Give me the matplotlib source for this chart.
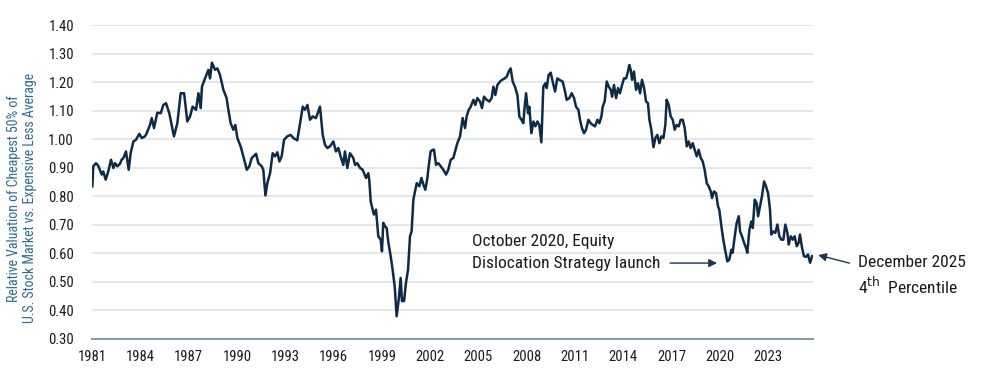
import matplotlib
matplotlib.use("Agg")
import matplotlib.pyplot as plt

plt.rcParams['font.family'] = ['Roboto Condensed', 'Liberation Sans Narrow', 'Roboto', 'DejaVu Sans']

# relative valuation (decimal years)
years = [
    1981.02, 1981.08, 1981.25, 1981.39, 1981.60, 1981.70, 1981.85, 1982.01, 1982.18, 1982.33,
    1982.43, 1982.57, 1982.74, 1982.84, 1982.95, 1983.11, 1983.28, 1983.40, 1983.57, 1983.73,
    1983.94, 1984.09, 1984.29, 1984.40, 1984.60, 1984.71, 1984.85, 1985.06, 1985.27, 1985.43,
    1985.60, 1985.80, 1986.09, 1986.30, 1986.51, 1986.72, 1986.92, 1987.09, 1987.25, 1987.46,
    1987.61, 1987.75, 1987.83, 1988.02, 1988.23, 1988.33, 1988.45, 1988.64, 1988.79, 1988.95,
    1989.16, 1989.36, 1989.47, 1989.61, 1989.78, 1989.90, 1990.03, 1990.23, 1990.40, 1990.61,
    1990.77, 1990.92, 1991.19, 1991.33, 1991.54, 1991.64, 1991.77, 1991.89, 1992.06, 1992.22,
    1992.37, 1992.51, 1992.64, 1992.78, 1992.93, 1993.13, 1993.34, 1993.51, 1993.75, 1993.92,
    1994.09, 1994.23, 1994.38, 1994.54, 1994.71, 1994.91, 1995.16, 1995.33, 1995.47, 1995.62,
    1995.78, 1995.99, 1996.15, 1996.30, 1996.44, 1996.61, 1996.71, 1996.86, 1997.02, 1997.23,
    1997.34, 1997.48, 1997.65, 1997.81, 1998.02, 1998.16, 1998.22, 1998.31, 1998.43, 1998.51,
    1998.64, 1998.78, 1998.93, 1999.01, 1999.09, 1999.20, 1999.30, 1999.41, 1999.55, 1999.67,
    1999.80, 1999.92, 2000.05, 2000.17, 2000.25, 2000.38, 2000.50, 2000.63, 2000.75, 2000.85,
    2000.96, 2001.06, 2001.17, 2001.33, 2001.46, 2001.58, 2001.70, 2001.83, 2001.91, 2002.03,
    2002.16, 2002.24, 2002.37, 2002.51, 2002.66, 2002.82, 2002.99, 2003.13, 2003.28, 2003.44,
    2003.55, 2003.69, 2003.86, 2004.02, 2004.17, 2004.27, 2004.40, 2004.52, 2004.69, 2004.81,
    2004.93, 2005.10, 2005.22, 2005.35, 2005.51, 2005.68, 2005.82, 2005.93, 2006.05, 2006.18,
    2006.34, 2006.47, 2006.63, 2006.76, 2006.88, 2007.00, 2007.13, 2007.27, 2007.42, 2007.54,
    2007.67, 2007.79, 2007.87, 2007.96, 2008.08, 2008.16, 2008.29, 2008.41, 2008.54, 2008.66,
    2008.78, 2008.91, 2009.03, 2009.16, 2009.24, 2009.36, 2009.49, 2009.61, 2009.76, 2009.90,
    2010.03, 2010.23, 2010.38, 2010.48, 2010.65, 2010.79, 2010.94, 2011.06, 2011.21, 2011.31,
    2011.43, 2011.56, 2011.68, 2011.83, 2011.97, 2012.10, 2012.24, 2012.39, 2012.51, 2012.64,
    2012.72, 2012.84, 2012.97, 2013.09, 2013.22, 2013.30, 2013.42, 2013.55, 2013.67, 2013.79,
    2013.92, 2014.04, 2014.17, 2014.29, 2014.37, 2014.46, 2014.54, 2014.66, 2014.79, 2014.91,
    2015.04, 2015.16, 2015.29, 2015.41, 2015.53, 2015.62, 2015.74, 2015.87, 2015.99, 2016.11,
    2016.24, 2016.36, 2016.49, 2016.61, 2016.69, 2016.82, 2016.94, 2017.07, 2017.19, 2017.31,
    2017.44, 2017.56, 2017.69, 2017.81, 2017.94, 2018.06, 2018.18, 2018.31, 2018.43, 2018.56,
    2018.68, 2018.81, 2018.93, 2019.05, 2019.18, 2019.30, 2019.43, 2019.51, 2019.63, 2019.76,
    2019.88, 2019.96, 2020.09, 2020.21, 2020.34, 2020.46, 2020.58, 2020.71, 2020.79, 2020.92,
    2021.04, 2021.17, 2021.25, 2021.37, 2021.50, 2021.62, 2021.70, 2021.83, 2021.95, 2022.04,
    2022.16, 2022.28, 2022.37, 2022.49, 2022.61, 2022.74, 2022.86, 2022.99, 2023.11, 2023.19,
    2023.32, 2023.44, 2023.57, 2023.69, 2023.82, 2023.94, 2024.06, 2024.19, 2024.27, 2024.40,
    2024.52, 2024.64, 2024.77, 2024.89, 2024.97, 2025.10, 2025.22, 2025.35, 2025.47, 2025.60,
    2025.72,
]
values = [
    0.835, 0.905, 0.916, 0.907, 0.876, 0.887, 0.858, 0.887, 0.928, 0.899,
    0.916, 0.905, 0.914, 0.928, 0.934, 0.957, 0.893, 0.951, 0.992, 0.998,
    1.019, 1.004, 1.010, 1.021, 1.050, 1.074, 1.039, 1.093, 1.091, 1.120,
    1.126, 1.091, 1.010, 1.056, 1.161, 1.161, 1.062, 1.080, 1.114, 1.103,
    1.161, 1.109, 1.184, 1.213, 1.243, 1.213, 1.268, 1.243, 1.248, 1.225,
    1.173, 1.144, 1.103, 1.056, 1.033, 1.050, 1.004, 0.975, 0.940, 0.893,
    0.905, 0.934, 0.949, 0.916, 0.905, 0.893, 0.803, 0.846, 0.881, 0.951,
    0.940, 0.954, 0.922, 0.940, 0.998, 1.010, 1.015, 1.004, 0.996, 1.056,
    1.114, 1.103, 1.120, 1.068, 1.080, 1.074, 1.114, 1.015, 0.980, 0.969,
    0.975, 0.992, 0.957, 0.969, 0.940, 0.910, 0.957, 0.899, 0.951, 0.934,
    0.910, 0.916, 0.899, 0.893, 0.864, 0.881, 0.858, 0.782, 0.753, 0.736,
    0.753, 0.660, 0.648, 0.607, 0.707, 0.695, 0.689, 0.637, 0.590, 0.543,
    0.485, 0.380, 0.438, 0.514, 0.433, 0.433, 0.497, 0.543, 0.660, 0.677,
    0.788, 0.817, 0.846, 0.835, 0.864, 0.841, 0.823, 0.864, 0.905, 0.957,
    0.963, 0.963, 0.910, 0.916, 0.905, 0.893, 0.876, 0.893, 0.928, 0.934,
    0.957, 0.986, 1.010, 1.074, 1.039, 1.080, 1.103, 1.114, 1.138, 1.120,
    1.144, 1.132, 1.109, 1.149, 1.138, 1.132, 1.144, 1.184, 1.155, 1.190,
    1.202, 1.208, 1.213, 1.219, 1.237, 1.248, 1.202, 1.184, 1.155, 1.080,
    1.068, 1.056, 1.114, 1.161, 1.091, 1.114, 1.021, 1.062, 1.045, 1.062,
    1.050, 0.989, 1.184, 1.196, 1.179, 1.225, 1.233, 1.202, 1.167, 1.213,
    1.208, 1.202, 1.167, 1.138, 1.144, 1.161, 1.144, 1.114, 1.103, 1.068,
    1.039, 1.021, 1.033, 1.068, 1.056, 1.050, 1.045, 1.068, 1.056, 1.080,
    1.114, 1.132, 1.202, 1.184, 1.173, 1.149, 1.190, 1.144, 1.179, 1.161,
    1.190, 1.213, 1.213, 1.237, 1.260, 1.243, 1.208, 1.237, 1.173, 1.196,
    1.161, 1.208, 1.179, 1.132, 1.126, 1.068, 1.033, 0.972, 1.004, 1.015,
    0.986, 1.010, 1.004, 1.050, 1.138, 1.120, 1.080, 1.068, 1.033, 1.050,
    1.045, 1.068, 1.068, 1.039, 0.975, 0.992, 0.969, 0.986, 0.963, 0.940,
    0.963, 0.934, 0.922, 0.893, 0.846, 0.835, 0.817, 0.794, 0.817, 0.811,
    0.765, 0.753, 0.695, 0.648, 0.607, 0.572, 0.578, 0.613, 0.602, 0.660,
    0.707, 0.730, 0.677, 0.660, 0.637, 0.619, 0.602, 0.683, 0.712, 0.689,
    0.788, 0.776, 0.730, 0.765, 0.800, 0.852, 0.835, 0.811, 0.753, 0.666,
    0.677, 0.672, 0.701, 0.660, 0.648, 0.648, 0.701, 0.672, 0.631, 0.660,
    0.648, 0.660, 0.625, 0.637, 0.666, 0.619, 0.590, 0.588, 0.596, 0.567,
    0.590,
]

tick_years = list(range(1981, 2024, 3))
y_ticks = [0.30, 0.40, 0.50, 0.60, 0.70, 0.80, 0.90, 1.00, 1.10, 1.20, 1.30, 1.40]

fig = plt.figure(figsize=(10, 3.85), dpi=100)
ax = fig.add_axes([0.092, 0.1195, 0.721, 0.8155])

ax.plot(years, values, color='#0e2a47', linewidth=1.8, zorder=3)

ax.set_xlim(1981.0, 2025.78)
ax.set_ylim(0.30, 1.40)
ax.set_xticks(tick_years)
ax.set_xticklabels([str(y) for y in tick_years])
ax.set_yticks(y_ticks)
ax.set_yticklabels([f'{v:.2f}' for v in y_ticks])
ax.tick_params(axis='both', length=0, labelsize=10.5, colors='#1a1a1a')
ax.tick_params(axis='y', pad=13)
ax.tick_params(axis='x', pad=8)

ax.grid(axis='y', color='#dfe4e8', linewidth=1.2)
ax.set_axisbelow(True)
for s in ['top', 'right', 'left']:
    ax.spines[s].set_visible(False)
ax.spines['bottom'].set_color('#8199a8')
ax.spines['bottom'].set_linewidth(1.4)

fig.text(0.022, 0.485, 'Relative Valuation of Cheapest 50% of\nU.S. Stock Market vs. Expensive Less Average',
         rotation=90, ha='center', va='center', fontsize=10, color='#2f6a95', linespacing=1.25)

# annotations
ax.text(2004.6, 0.640, 'October 2020, Equity', fontsize=12.5, color='#1a1a1a', va='center', ha='left')
ax.annotate('Dislocation Strategy launch', xy=(2019.82, 0.566), xytext=(2004.6, 0.566),
            fontsize=12.5, color='#1a1a1a', va='center', ha='left',
            arrowprops=dict(arrowstyle='-|>', color='#1f3550', lw=1.0, shrinkA=5, shrinkB=0,
                            mutation_scale=12))
ax.annotate('December 2025\n4$^{\\mathrm{th}}$  Percentile', xy=(2026.1, 0.594), xytext=(2028.55, 0.522),
            fontsize=12.5, color='#1a1a1a', va='center', ha='left', linespacing=1.3,
            annotation_clip=False,
            arrowprops=dict(arrowstyle='-|>', color='#1f3550', lw=1.0, shrinkA=4, shrinkB=0,
                            mutation_scale=12, relpos=(0, 0.75)))

fig.savefig('out.png', dpi=100)
